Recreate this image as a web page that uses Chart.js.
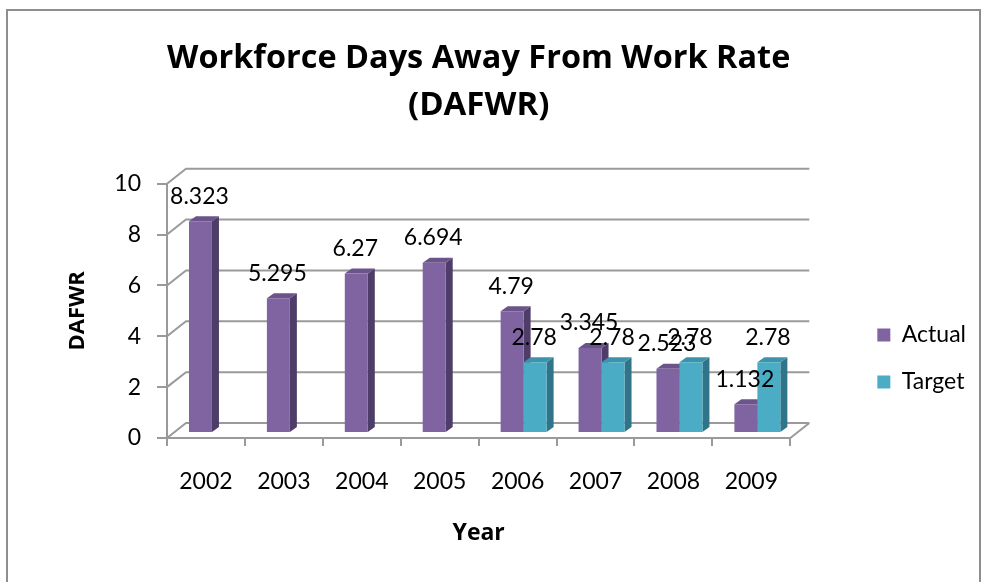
<!DOCTYPE html>
<html>
<head>
<meta charset="utf-8">
<script src="https://cdn.jsdelivr.net/npm/chart.js@4/dist/chart.umd.min.js"></script>
<style>
  html, body { margin: 0; padding: 0; background: #ffffff; }
  #wrap { width: 988px; height: 582px; position: relative; }
</style>
</head>
<body>
<div id="wrap"><canvas id="c" width="988" height="582"></canvas></div>
<script>
// ---- data ----
const categories = ['2002', '2003', '2004', '2005', '2006', '2007', '2008', '2009'];
const actualValues = [8.323, 5.295, 6.27, 6.694, 4.79, 3.345, 2.523, 1.132];
const targetValues = [null, null, null, null, 2.78, 2.78, 2.78, 2.78];
const seriesNames = ['Actual', 'Target'];
const yTickValues = [0, 2, 4, 6, 8, 10];
const titleLines = ['Workforce Days Away From Work Rate', '(DAFWR)'];

// ---- styling ----
const FONT = 'Lato, "DejaVu Sans", sans-serif';
const BOLD_FONT = '"Open Sans", Lato, sans-serif';
const GRID = '#9a9a9a';
const WALL = { x: 19, y: -15 };      // back wall offset
const SHIFT = { x: 6, y: -5 };       // bar plane offset
const SIDE = { x: 7, y: -5 };        // bar depth
const FACE_COLORS = [
  { side: '#4F3D69', top: '#6B5489' },
  { side: '#2F7489', top: '#3C94AC' }
];
const FRONT_COLORS = ['#8064A2', '#4BACC6'];

function drawFaces(ctx, chart, di) {
  const ds = chart.data.datasets[di];
  const col = FACE_COLORS[di];
  chart.getDatasetMeta(di).data.forEach((el, i) => {
    if (ds.data[i] === null || ds.data[i] === undefined) return;
    const p = el.getProps(['x', 'y', 'base', 'width'], true);
    const l = p.x - p.width / 2, r = p.x + p.width / 2, t = p.y, b = p.base;
    ctx.fillStyle = col.side;
    ctx.beginPath();
    ctx.moveTo(r, t);
    ctx.lineTo(r + SIDE.x, t + SIDE.y);
    ctx.lineTo(r + SIDE.x, b + SIDE.y);
    ctx.lineTo(r, b);
    ctx.closePath();
    ctx.fill();
    ctx.fillStyle = col.top;
    ctx.beginPath();
    ctx.moveTo(l, t);
    ctx.lineTo(l + SIDE.x, t + SIDE.y);
    ctx.lineTo(r + SIDE.x, t + SIDE.y);
    ctx.lineTo(r, t);
    ctx.closePath();
    ctx.fill();
  });
}

const excel3d = {
  id: 'excel3d',
  beforeDraw(chart) {
    const ctx = chart.ctx;
    ctx.save();
    ctx.strokeStyle = '#8e8e8e';
    ctx.lineWidth = 2;
    ctx.strokeRect(7, 10, 973, 600);
    ctx.restore();
  },
  beforeDatasetsDraw(chart) {
    const ctx = chart.ctx;
    const { left, right, bottom } = chart.chartArea;
    const ys = chart.scales.y;
    ctx.save();
    ctx.strokeStyle = GRID;
    ctx.lineWidth = 2;
    ctx.beginPath();
    ys.ticks.forEach(t => {
      const y = ys.getPixelForValue(t.value);
      ctx.moveTo(left, y);
      ctx.lineTo(left + WALL.x, y + WALL.y);
      ctx.lineTo(right + WALL.x, y + WALL.y);
    });
    ctx.moveTo(right, bottom);
    ctx.lineTo(right + WALL.x, bottom + WALL.y);
    ctx.stroke();
    ctx.restore();
    ctx.save();
    ctx.translate(SHIFT.x, SHIFT.y);
    // depth faces first, so the front faces of neighbouring bars hide them
    drawFaces(ctx, chart, 0);
    drawFaces(ctx, chart, 1);
  },
  afterDatasetsDraw(chart) {
    const ctx = chart.ctx;
    ctx.restore();
    ctx.save();
    ctx.font = '23px ' + FONT;
    ctx.fillStyle = '#000';
    ctx.textAlign = 'center';
    ctx.textBaseline = 'middle';
    chart.data.datasets.forEach((ds, di) => {
      const meta = chart.getDatasetMeta(di);
      meta.data.forEach((el, i) => {
        const v = ds.data[i];
        if (v === null || v === undefined) return;
        const p = el.getProps(['x', 'y'], true);
        ctx.fillText(String(v), p.x + SHIFT.x - 1, p.y + SHIFT.y - 25);
      });
    });
    ctx.restore();
  }
};

new Chart(document.getElementById('c'), {
  type: 'bar',
  data: {
    labels: categories,
    datasets: [
      { label: seriesNames[0], data: actualValues, backgroundColor: FRONT_COLORS[0] },
      { label: seriesNames[1], data: targetValues, backgroundColor: FRONT_COLORS[1] }
    ]
  },
  options: {
    responsive: false,
    animation: false,
    devicePixelRatio: 1,
    categoryPercentage: 0.59,
    barPercentage: 1.0,
    layout: { padding: { left: 8, right: 12, top: 0, bottom: 0 } },
    plugins: {
      tooltip: { enabled: false },
      title: {
        display: true,
        text: titleLines,
        fullSize: false,
        color: '#000',
        font: { family: BOLD_FONT, size: 33, weight: 'bold', lineHeight: 1.42 },
        padding: { top: 35, bottom: 55 }
      },
      legend: {
        position: 'right',
        title: { display: true, text: '', padding: 0, font: { size: 100, lineHeight: 1.35 } },
        labels: {
          color: '#000',
          font: { family: FONT, size: 23 },
          boxWidth: 13,
          boxHeight: 13,
          padding: 24
        }
      }
    },
    scales: {
      x: {
        ticks: { font: { family: FONT, size: 23 }, color: '#000', padding: 22 },
        grid: { drawOnChartArea: false, drawTicks: true, tickLength: 8, color: GRID, lineWidth: 2, offset: true },
        border: { display: true, color: GRID, width: 2 },
        title: { display: true, text: 'Year', color: '#000', font: { family: BOLD_FONT, size: 23, weight: 'bold' }, padding: { top: 0, bottom: 35 } },
        afterFit: s => { s.height = 582 - 438; }
      },
      y: {
        min: 0,
        max: 10,
        afterBuildTicks: s => { s.ticks = yTickValues.map(v => ({ value: v })); },
        ticks: { font: { family: FONT, size: 23 }, color: '#000', padding: 16 },
        grid: { drawOnChartArea: false, drawTicks: true, tickLength: 10, color: GRID, lineWidth: 2 },
        border: { display: true, color: GRID, width: 2 },
        title: { display: true, text: 'DAFWR', color: '#000', font: { family: BOLD_FONT, size: 22, weight: 'bold' }, padding: { top: 57, bottom: 0 } },
        afterFit: s => { s.width = 167 - 8; }
      },
      spacer: {
        type: 'linear',
        position: 'right',
        display: true,
        grid: { display: false },
        border: { display: false },
        ticks: { display: false },
        afterFit: s => { s.width = 63; }
      }
    }
  },
  plugins: [excel3d]
});
</script>
</body>
</html>
